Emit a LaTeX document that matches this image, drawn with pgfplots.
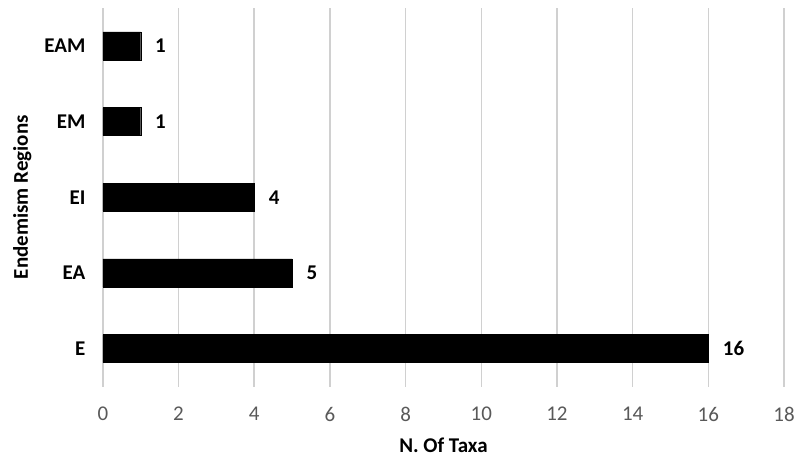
\documentclass[border=0pt]{standalone}
\usepackage{pgfplots}
\pgfplotsset{compat=1.18}
\usepackage{fontspec}
\setmainfont{Carlito}
\definecolor{gridgray}{HTML}{D0D0D0}
\definecolor{ticktext}{HTML}{595959}
\begin{document}
\begin{tikzpicture}
\begin{axis}[
  scale only axis,
  width=682pt, height=379pt,
  xbar, bar width=28pt,
  xmin=0, xmax=18,
  ymin=-0.5, ymax=4.5,
  xtick={0,2,...,18},
  ytick={0,1,2,3,4},
  yticklabels={E,EA,EI,EM,EAM},
  axis line style={draw=none},
  major tick length=0pt,
  xmajorgrids,
  grid style={gridgray, line width=1.6pt},
  tick label style={font=\fontsize{21}{25}\selectfont},
  xticklabel style={ticktext, yshift=-17pt},
  yticklabel style={font=\fontsize{21}{25}\selectfont\bfseries, xshift=-14pt},
  xlabel={N. Of Taxa},
  ylabel={Endemism Regions},
  label style={font=\fontsize{21}{25}\selectfont\bfseries},
  xlabel style={yshift=-10pt},
  ylabel style={yshift=6pt},
  nodes near coords,
  every node near coord/.append style={font=\fontsize{21}{25}\selectfont\bfseries, black, xshift=11pt},
  /pgf/number format/assume math mode=true,
]
\addplot[fill=black, draw=black] coordinates {(16,0) (5,1) (4,2) (1,3) (1,4)};
\end{axis}
\path (current axis.south west) ++(-103pt,-74pt) rectangle ++(798pt,461pt);
\end{tikzpicture}
\end{document}
